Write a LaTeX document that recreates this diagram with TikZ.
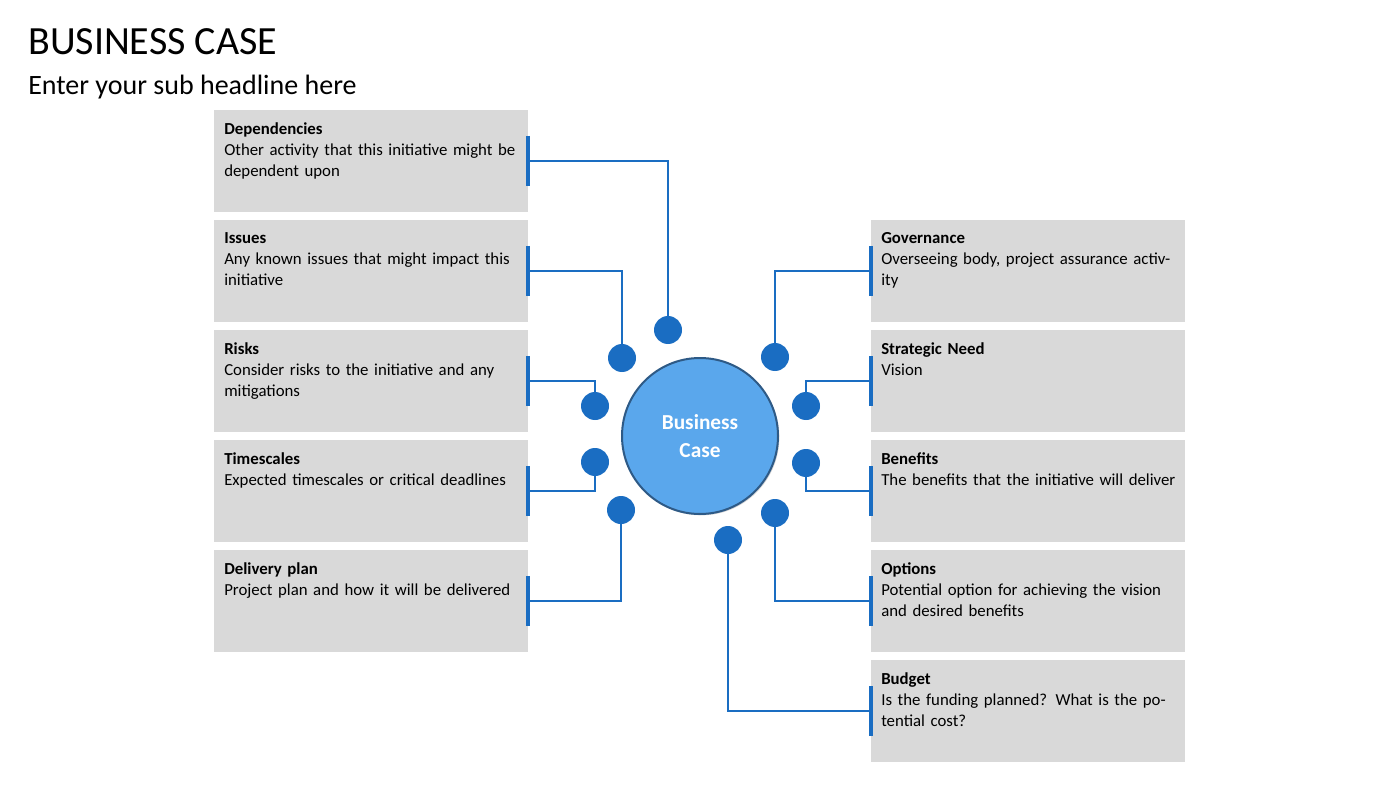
\documentclass[tikz,border=0pt]{standalone}
\usepackage{fontspec}
\setmainfont{Carlito}
\usetikzlibrary{shadows}
\definecolor{boxg}{HTML}{D9D9D9}
\definecolor{lblue}{HTML}{1A6DC2}
\definecolor{cfill}{HTML}{5AA7EC}
\definecolor{cedge}{HTML}{2E5A86}
\begin{document}
\begin{tikzpicture}[x=0.75pt,y=-0.75pt,
  box/.style={fill=boxg,draw=none,minimum width=235.5pt,minimum height=76.5pt,anchor=north west,inner sep=0},
  txt/.style={anchor=north west,text width=222pt,align=left,font=\fontsize{12.6}{15.75}\selectfont,inner sep=0},
  dot/.style={circle,fill=lblue,minimum size=21pt,inner sep=0},
  lnk/.style={draw=lblue,line width=2pt},
  bar/.style={draw=lblue,line width=2.6pt}]
\useasboundingbox (0,0) rectangle (1400,788);
\node[anchor=base west,inner sep=0,font=\fontsize{30}{36}\selectfont] (title) at (28,55) {BUSINESS CASE};
\node[anchor=base west,inner sep=0,font=\fontsize{21}{26}\selectfont] (sub) at (28,95) {Enter your sub headline here};
% left boxes
\foreach \n/\y/\h/\t in {L1/110/Dependencies/Other activity that this initiative might be dependent upon,
  L2/220/Issues/Any known issues that might impact this initiative,
  L3/330/Risks/Consider risks to the initiative and any mitigations,
  L4/440/Timescales/Expected timescales or critical deadlines,
  L5/550/Delivery plan/Project plan and how it will be delivered}{
  \node[box] (\n) at (214,\y) {};
  \node[txt] (\n t) at (224,\y+12) {\textbf{\h}\\\t};
  \coordinate (\n b) at (528,\y+51);
  \draw[bar] (528,\y+26) -- (528,\y+76);
}
\foreach \n/\y/\h/\t in {R1/220/Governance/{Overseeing body, project assurance activity},
  R2/330/Strategic Need/Vision/{Desired future state, linked to strategic priorities},
  R3/440/Benefits/The benefits that the initiative will deliver,
  R4/550/Options/Potential option for achieving the vision and desired benefits,
  R5/660/Budget/Is the funding planned? What is the potential cost?}{
  \node[box] (\n) at (871,\y) {};
  \node[txt] (\n t) at (881,\y+12) {\textbf{\h}\\\t};
  \coordinate (\n b) at (871,\y+51);
  \draw[bar] (871,\y+26) -- (871,\y+76);
}
\node[circle,fill=cfill,draw=cedge,line width=1.5pt,minimum size=117pt,inner sep=0,
  drop shadow={opacity=0.35,shadow xshift=1pt,shadow yshift=-1pt},
  font=\fontsize{16}{21}\selectfont\bfseries,text=white,align=center] (bc) at (700,436) {Business\\Case};
\node[dot] (d1) at (668,330) {};
\node[dot] (d2) at (622,358) {};
\node[dot] (d3) at (595,406) {};
\node[dot] (d4) at (595,462) {};
\node[dot] (d5) at (621,510) {};
\node[dot] (e1) at (775,357) {};
\node[dot] (e2) at (806,406) {};
\node[dot] (e3) at (806,463) {};
\node[dot] (e4) at (775,513) {};
\node[dot] (e5) at (728,540) {};
\draw[lnk] (L1b) -| (d1);
\draw[lnk] (L2b) -| (d2);
\draw[lnk] (L3b) -| (d3);
\draw[lnk] (L4b) -| (d4);
\draw[lnk] (L5b) -| (d5);
\draw[lnk] (R1b) -| (e1);
\draw[lnk] (R2b) -| (e2);
\draw[lnk] (R3b) -| (e3);
\draw[lnk] (R4b) -| (e4);
\draw[lnk] (R5b) -| (e5);
\end{tikzpicture}
\end{document}
